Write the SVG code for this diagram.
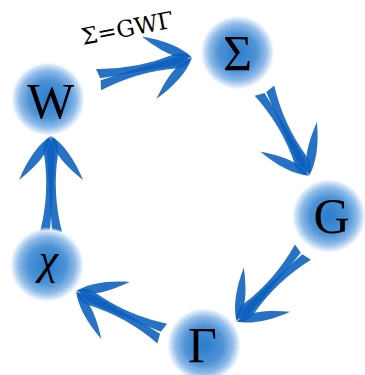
<svg xmlns="http://www.w3.org/2000/svg" xmlns:xlink="http://www.w3.org/1999/xlink" width="365" height="375" viewBox="0 0 365 375">
<style>
.nt{font-family:"Liberation Serif","DejaVu Serif",serif;font-size:50px;text-anchor:middle;fill:#000}
.lbl{font-family:"DejaVu Serif","Liberation Serif",serif;font-size:23px;fill:#000}
.arr path{fill:#0a5fbd;fill-opacity:0.88}
</style>
<defs>
<radialGradient id="glow" cx="0.5" cy="0.5" r="0.5">
<stop offset="0" stop-color="#2a7cca"/>
<stop offset="0.5" stop-color="#4d93d6"/>
<stop offset="0.75" stop-color="#8fbbe8"/>
<stop offset="0.9" stop-color="#d8e8f8"/>
<stop offset="1" stop-color="#ffffff" stop-opacity="0"/>
</radialGradient>
<g id="arrow" class="arr">
<path d="M1,-1 C-3,-7 -10,-8 -16,-7 Q-55,-1 -94,-11 L-92,-1 Q-55,2 -14,4 Z"/>
<path d="M1,1 C-3,7 -10,8 -16,7 Q-55,1 -94,11 L-92,1 Q-55,-2 -14,-4 Z"/>
<path d="M2,0 C-5,-12 -22,-24 -42,-32 C-32,-20 -20,-6 -6,-2 Z"/>
<path d="M2,0 C-5,12 -22,24 -42,32 C-32,20 -20,6 -6,2 Z"/>
</g>
</defs>
<g id="connectors">
<use xlink:href="#arrow" transform="translate(190,58) rotate(-13.3)"/>
<use xlink:href="#arrow" transform="translate(308,174) rotate(62.4)"/>
<use xlink:href="#arrow" transform="translate(238,320) rotate(133.7)"/>
<use xlink:href="#arrow" transform="translate(78,292) rotate(206.3)"/>
<use xlink:href="#arrow" transform="translate(51,138) rotate(-90)"/>
<text class="lbl" x="83" y="45" transform="rotate(-11 83 45)">Σ=GWΓ</text>
</g>
<g id="node-W"><circle cx="48" cy="99" r="38" fill="url(#glow)"/><text class="nt" x="50.5" y="118">W</text></g>
<g id="node-Sigma"><circle cx="237.5" cy="52.5" r="38" fill="url(#glow)"/><text class="nt" x="237.5" y="70">Σ</text></g>
<g id="node-G"><circle cx="329" cy="216" r="38" fill="url(#glow)"/><text class="nt" x="331.5" y="233">G</text></g>
<g id="node-Gamma"><circle cx="204" cy="345" r="38" fill="url(#glow)"/><text class="nt" x="202.5" y="362">Γ</text></g>
<g id="node-chi"><circle cx="47" cy="265" r="38" fill="url(#glow)"/><text class="nt" x="48.5" y="274" style="font-size:44px;font-style:italic">χ</text></g>
</svg>
